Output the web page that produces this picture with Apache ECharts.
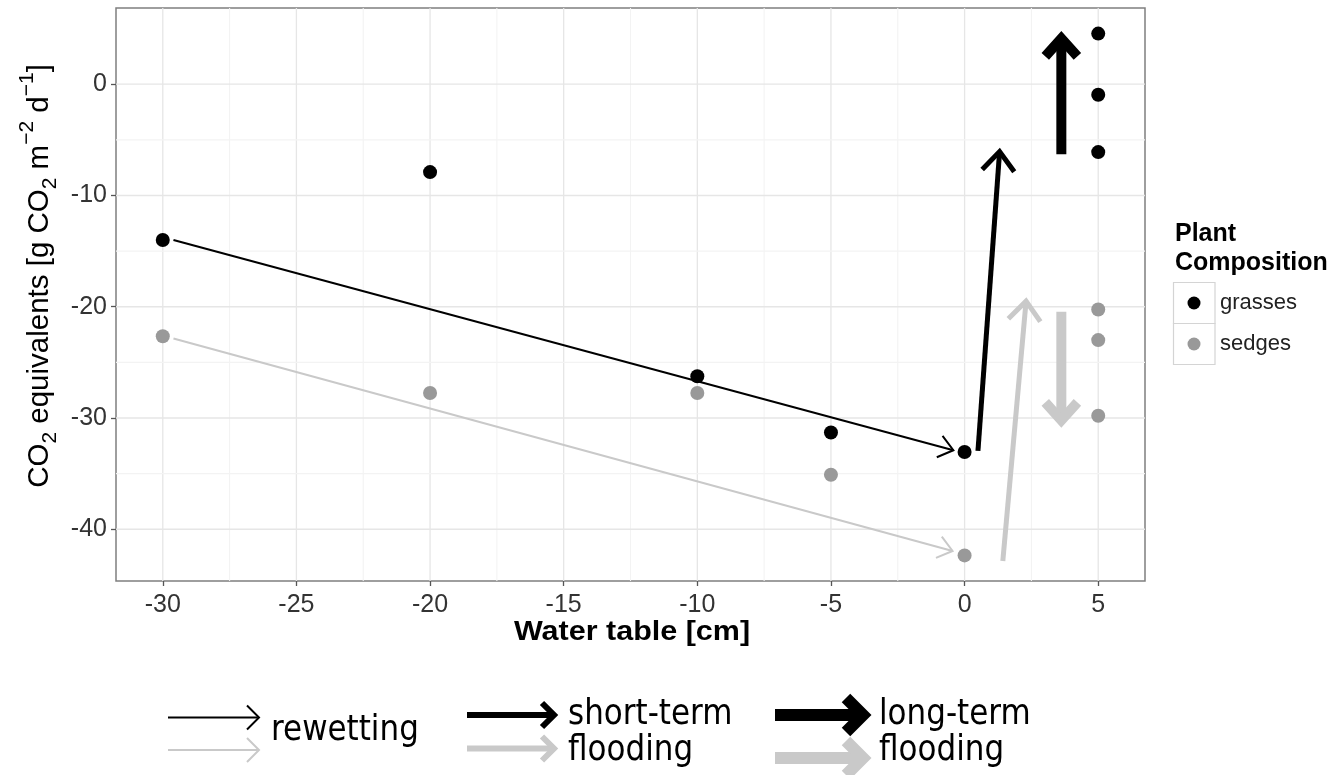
<!DOCTYPE html>
<html>
<head>
<meta charset="utf-8">
<title>CO2 equivalents vs water table</title>
<script src="https://cdn.jsdelivr.net/npm/echarts@6/dist/echarts.min.js"></script>
<style>
  html, body { margin: 0; padding: 0; background: #ffffff; }
  #chart { width: 1337px; height: 775px; }
</style>
</head>
<body>
<div id="chart"></div>
<script>
// Axis breaks and limits
const xTicks = [-30, -25, -20, -15, -10, -5, 0, 5];
const yTicks = [-40, -30, -20, -10, 0];
const X_MIN = -31.75, X_MAX = 6.75;
const Y_MIN = -44.65, Y_MAX = 6.85;

// Measured fluxes per plant composition
const grassesX = [-30, -20, -10, -5, 0, 5, 5, 5];
const grassesY = [-14.0, -7.9, -26.25, -31.3, -33.05, 4.55, -0.95, -6.1];
const sedgesX = [-30, -20, -10, -5, 0, 5, 5, 5];
const sedgesY = [-22.65, -27.75, -27.75, -35.1, -42.35, -20.25, -23.0, -29.8];

// Annotation arrows (data coordinates)
const arrowFrom = [[-29.6, -14.0], [-29.6, -22.85], [0.5, -32.95], [1.43, -42.85], [3.62, -6.3], [3.62, -20.45]];
const arrowTo = [[-0.42, -32.9], [-0.45, -41.95], [1.31, -6.05], [2.30, -19.5], [3.62, 4.1], [3.62, -30.2]];
const arrowKind = ['rewetting', 'rewetting', 'short-term', 'short-term', 'long-term', 'long-term'];
const arrowGroup = ['grasses', 'sedges', 'grasses', 'sedges', 'grasses', 'sedges'];

// ---- styling ----
const FONT = '"Liberation Sans", Arial, Helvetica, sans-serif';
const LEGEND_FONT = '"DejaVu Sans", sans-serif';
const groupColor = { grasses: '#000000', sedges: '#c9c9c9' };
const pointColor = { grasses: '#000000', sedges: '#999999' };
const kindLook = {
  'rewetting': { width: 2, head: 18, angle: 38 },
  'short-term': { width: 5, head: 25, angle: 40 },
  'long-term': { width: 10, head: 24, angle: 42 }
};

// minor grid lines halfway between breaks
const mid = (arr) => arr.slice(1).map((v, i) => (v + arr[i]) / 2);
const xMinor = mid(xTicks);
const yMinor = mid(yTicks);

const gridData = [];
xTicks.forEach(v => gridData.push([v, 0, 1]));
xMinor.forEach(v => gridData.push([v, 0, 0]));
yTicks.forEach(v => gridData.push([v, 1, 1]));
yMinor.forEach(v => gridData.push([v, 1, 0]));

function renderGridLine(params, api) {
  const v = api.value(0), horiz = api.value(1) === 1, major = api.value(2) === 1;
  const a = horiz ? api.coord([X_MIN, v]) : api.coord([v, Y_MIN]);
  const b = horiz ? api.coord([X_MAX, v]) : api.coord([v, Y_MAX]);
  return {
    type: 'line',
    shape: { x1: a[0], y1: a[1], x2: b[0], y2: b[1] },
    style: { stroke: major ? '#e6e6e6' : '#f3f3f3', lineWidth: major ? 1.3 : 1.1 },
    silent: true
  };
}

const arrowData = arrowFrom.map((p, i) => [p[0], p[1], arrowTo[i][0], arrowTo[i][1]]);

function renderArrow(params, api) {
  const i = params.dataIndex;
  const look = kindLook[arrowKind[i]];
  const color = groupColor[arrowGroup[i]];
  const p0 = api.coord([api.value(0), api.value(1)]);
  const p1 = api.coord([api.value(2), api.value(3)]);
  const ang = Math.atan2(p1[1] - p0[1], p1[0] - p0[0]);
  const a = look.angle * Math.PI / 180;
  const L = look.head;
  const left = [p1[0] - L * Math.cos(ang - a), p1[1] - L * Math.sin(ang - a)];
  const right = [p1[0] - L * Math.cos(ang + a), p1[1] - L * Math.sin(ang + a)];
  return {
    type: 'group',
    children: [
      { type: 'line', shape: { x1: p0[0], y1: p0[1], x2: p1[0], y2: p1[1] },
        style: { stroke: color, lineWidth: look.width, lineCap: 'butt' } },
      { type: 'polyline', shape: { points: [left, p1, right] },
        style: { stroke: color, fill: null, lineWidth: look.width, lineJoin: 'miter', miterLimit: 10, lineCap: 'butt' } }
    ]
  };
}

// bottom key: arrow glyphs drawn in pixels
function keyArrow(x0, x1, y, w, head, color) {
  return [
    { type: 'line', shape: { x1: x0, y1: y, x2: x1 - w * 0.6, y2: y },
      style: { stroke: color, lineWidth: w, lineCap: 'butt' }, z: 10 },
    { type: 'polyline', shape: { points: [[x1 - head, y - head], [x1, y], [x1 - head, y + head]] },
      style: { stroke: color, fill: null, lineWidth: w, lineJoin: 'miter', miterLimit: 10 }, z: 10 }
  ];
}

function legendText(x, y, text, color, size, weight) {
  return { type: 'text', x: x, y: y, z: 10,
    style: { text: text, fill: color, fontSize: size, fontWeight: weight || 'normal',
      fontFamily: FONT, align: 'left', verticalAlign: 'middle' } };
}

const graphics = [];
// y-axis title with sub/superscripts
graphics.push({
  type: 'text', x: 40, y: 276, rotation: Math.PI / 2, z: 10,
  style: {
    text: '{a|CO}{sub|2}{a| equivalents [g CO}{sub|2}{a| m}{sup|\u22122}{a| d}{sup|\u22121}{a|]}',
    align: 'center', verticalAlign: 'middle',
    rich: {
      a: { fontSize: 29.5, fontFamily: FONT, fill: '#000' },
      sub: { fontSize: 21, fontFamily: FONT, fill: '#000', padding: [20, 0, 0, 0] },
      sup: { fontSize: 21, fontFamily: FONT, fill: '#000', padding: [0, 0, 25, 0] }
    }
  }
});
// x-axis title
graphics.push({
  type: 'text', x: 632, y: 633, scaleX: 1.13, z: 10,
  style: { text: 'Water table [cm]', fontSize: 27, fontWeight: 'bold', fontFamily: FONT,
    fill: '#000', align: 'center', verticalAlign: 'middle' }
});
// colour legend
graphics.push(legendText(1175, 234, 'Plant', '#000', 25, 'bold'));
graphics.push(legendText(1175, 263, 'Composition', '#000', 25, 'bold'));
['grasses', 'sedges'].forEach((g, k) => {
  const top = 282.5 + k * 41;
  graphics.push({ type: 'rect', shape: { x: 1173.5, y: top, width: 41.5, height: 41 },
    style: { fill: '#fff', stroke: '#d4d4d4', lineWidth: 1.2 }, z: 9 });
  graphics.push({ type: 'circle', shape: { cx: 1194, cy: top + 20.5, r: 6.5 },
    style: { fill: pointColor[g] }, z: 10 });
  graphics.push(legendText(1220, top + 20, g, '#222', 22));
});
// arrow key
graphics.push(...keyArrow(168, 259, 717.5, 2, 12, '#000'));
graphics.push(...keyArrow(168, 259, 750, 2, 12, '#c9c9c9'));
graphics.push(...keyArrow(467, 554, 715, 6, 12, '#000'));
graphics.push(...keyArrow(467, 554, 748.5, 6, 12, '#c9c9c9'));
graphics.push(...keyArrow(775, 863, 715, 12, 17, '#000'));
graphics.push(...keyArrow(775, 863, 758, 12, 17, '#c9c9c9'));
[[271, 731, 'rewetting'], [568, 715, 'short-term'], [568, 751, 'flooding'],
 [879, 715, 'long-term'], [879, 751, 'flooding']].forEach(t => {
  graphics.push({ type: 'text', x: t[0], y: t[1], scaleY: 1.15, z: 10,
    style: { text: t[2], fontSize: 31, fontFamily: LEGEND_FONT, fill: '#000',
      align: 'left', verticalAlign: 'middle' } });
});

const axisLabelStyle = { fontSize: 25, color: '#333333', fontFamily: FONT };

const option = {
  animation: false,
  backgroundColor: '#ffffff',
  grid: { left: 116, right: 192, top: 8, bottom: 194, show: true,
    borderColor: '#7f7f7f', borderWidth: 1.5, backgroundColor: '#ffffff' },
  xAxis: {
    type: 'value', min: X_MIN, max: X_MAX,
    splitLine: { show: false },
    axisLine: { show: false, onZero: false },
    axisTick: { show: true, customValues: xTicks, length: 5, lineStyle: { color: '#555', width: 1.3 } },
    axisLabel: Object.assign({ customValues: xTicks, margin: 12 }, axisLabelStyle)
  },
  yAxis: {
    type: 'value', min: Y_MIN, max: Y_MAX,
    splitLine: { show: false },
    axisLine: { show: false, onZero: false },
    axisTick: { show: true, customValues: yTicks, length: 5, lineStyle: { color: '#555', width: 1.3 } },
    axisLabel: Object.assign({ customValues: yTicks, margin: 9 }, axisLabelStyle)
  },
  series: [
    { type: 'custom', name: 'grid', renderItem: renderGridLine, data: gridData,
      encode: { x: -1, y: -1 }, silent: true, z: 1, clip: true },
    { type: 'custom', name: 'arrows', renderItem: renderArrow, data: arrowData,
      encode: { x: [0, 2], y: [1, 3] }, silent: true, z: 3 },
    { type: 'scatter', name: 'grasses', data: grassesX.map((x, i) => [x, grassesY[i]]),
      symbol: 'circle', symbolSize: 14, itemStyle: { color: pointColor.grasses, opacity: 1 }, z: 5 },
    { type: 'scatter', name: 'sedges', data: sedgesX.map((x, i) => [x, sedgesY[i]]),
      symbol: 'circle', symbolSize: 14, itemStyle: { color: pointColor.sedges, opacity: 1 }, z: 5 }
  ],
  graphic: graphics
};

const chart = echarts.init(document.getElementById('chart'), null, { renderer: 'canvas' });
chart.setOption(option);
</script>
</body>
</html>
